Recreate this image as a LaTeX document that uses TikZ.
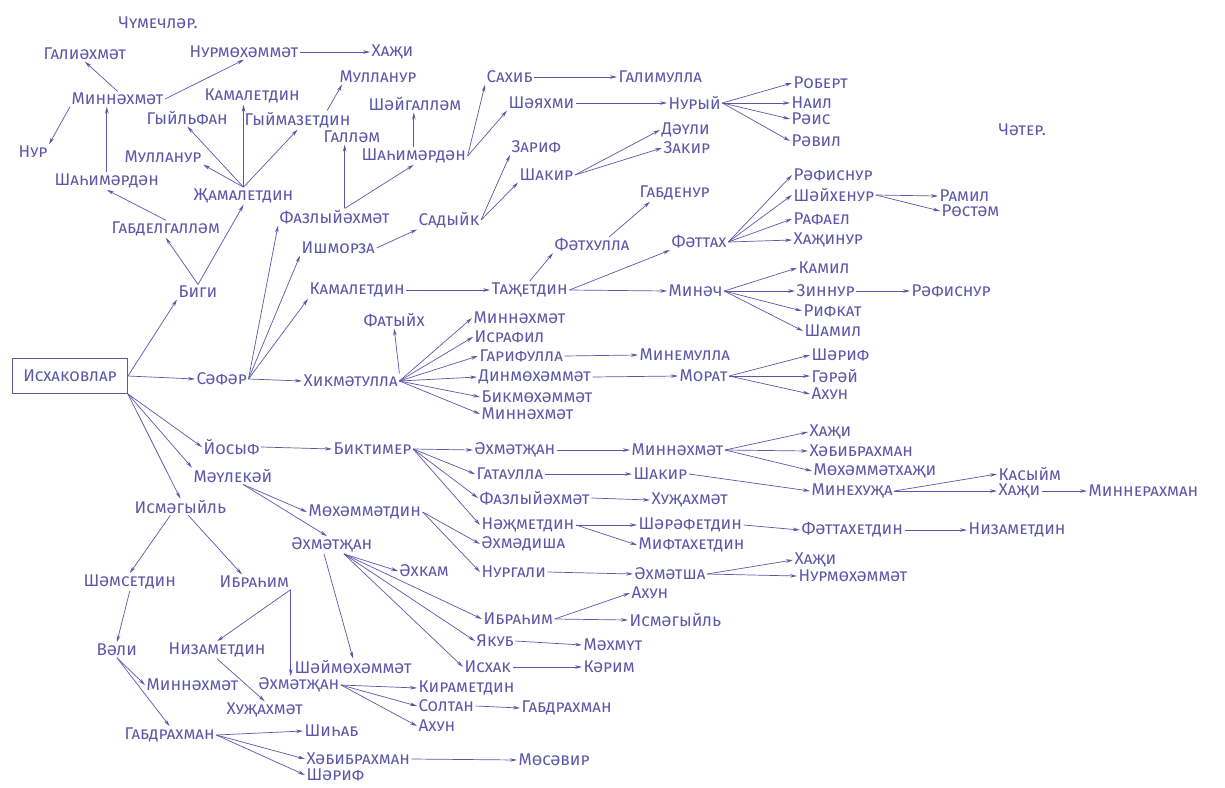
\documentclass[tikz,border=0pt]{standalone}
\usepackage{fontspec}
\setmainfont{Fira Sans}[Letters=SmallCaps]
\usetikzlibrary{arrows.meta,calc}
\definecolor{ink}{RGB}{92,86,168}
\begin{document}
\begin{tikzpicture}[x=1pt,y=-1pt,
  t/.style={anchor=west,inner sep=1.5pt,text=ink,font=\fontsize{17}{18}\selectfont},
  arr/.style={draw=ink,line width=0.7pt,-{Stealth[length=7pt,width=3.5pt]}},
  ln/.style={draw=ink,line width=0.7pt}]
\path[use as bounding box] (0,0) rectangle (1225,787);
% titles
\node[t] (chum) at (117,23) {Чүмечләр.};
\node[t] (chater) at (997,130) {Чәтер.};
% root
\node[draw=ink,line width=0.9pt,minimum width=115,minimum height=35,inner sep=1pt,text=ink,font=\fontsize{17}{18}\selectfont] (root) at (70,376) {Исхаковлар};
% top-left
\node[t] (galiahmat) at (42,54) {Галиәхмәт};
\node[t] (nurmoh1) at (188,52) {Нурмөхәммәт};
\node[t] (hazhi1) at (370,52) {Хаҗи};
\node[t] (minnah1) at (70,99) {Миннәхмәт};
\node[t] (kamal1) at (203,96) {Камалетдин};
\node[t] (gyilfan) at (145,118) {Гыйльфан};
\node[t] (gyimaz) at (243,120) {Гыймазетдин};
\node[t] (nur) at (17,152) {Нур};
\node[t] (mullanur1) at (123,157) {Мулланур};
\node[t] (shahim1) at (53,181) {Шаһимәрдән};
\node[t] (zhamal) at (192,196) {Җамалетдин};
\node[t] (gabdel) at (110,229) {Габделгалләм};
\node[t] (biga) at (177,292) {Биги};
% upper middle
\node[t] (mullanur2) at (338,77) {Мулланур};
\node[t] (shaygal) at (367,104) {Шәйгалләм};
\node[t] (gallam) at (322,137) {Галләм};
\node[t] (shahim2) at (360,156) {Шаһимәрдән};
\node[t] (fazly1) at (278,217) {Фазлыйәхмәт};
\node[t] (ishmorza) at (300,248) {Ишморза};
\node[t] (sadyik) at (417,220) {Садыйк};
\node[t] (sahib) at (485,77) {Сахиб};
\node[t] (galimulla) at (617,77) {Галимулла};
\node[t] (shayahmi) at (507,103) {Шәяхми};
\node[t] (nuryi) at (667,103) {Нурый};
\node[t] (robert) at (792,83) {Роберт};
\node[t] (nail) at (790,103) {Наил};
\node[t] (rais) at (790,119) {Рәис};
\node[t] (ravil) at (790,141) {Рәвил};
\node[t] (zarif) at (510,147) {Зариф};
\node[t] (shakir1) at (518,175) {Шакир};
\node[t] (dauli) at (660,130) {Дәүли};
\node[t] (zakir) at (662,148) {Закир};
\node[t] (gabdenur) at (638,193) {Габденур};
\node[t] (fathulla) at (553,245) {Фәтхулла};
\node[t] (fattah) at (670,242) {Фәттах};
\node[t] (rafisnur1) at (792,175) {Рәфиснур};
\node[t] (shayhenur) at (792,195) {Шәйхенур};
\node[t] (ramil) at (938,196) {Рамил};
\node[t] (rostam) at (940,211) {Рөстәм};
\node[t] (rafael) at (792,219) {Рафаел};
\node[t] (hazhinur) at (792,240) {Хаҗинур};
% Safar branch
\node[t] (safar) at (195,379) {Сәфәр};
\node[t] (kamal2) at (308,290) {Камалетдин};
\node[t] (tazhet) at (490,290) {Таҗетдин};
\node[t] (minach) at (667,291) {Минәч};
\node[t] (kamil) at (797,268) {Камил};
\node[t] (zinnur) at (795,291) {Зиннур};
\node[t] (rafisnur2) at (910,291) {Рәфиснур};
\node[t] (rifkat) at (802,311) {Рифкат};
\node[t] (shamil) at (803,331) {Шамил};
\node[t] (fatyih) at (362,320) {Фатыйх};
\node[t] (hikmat) at (302,381) {Хикмәтулла};
\node[t] (minnah2) at (472,318) {Миннәхмәт};
\node[t] (israfil) at (473,337) {Исрафил};
\node[t] (garif) at (478,356) {Гарифулла};
\node[t] (dinmoh) at (477,377) {Динмөхәммәт};
\node[t] (bikmoh) at (480,397) {Бикмөхәммәт};
\node[t] (minnah3) at (480,414) {Миннәхмәт};
\node[t] (minemulla) at (638,355) {Минемулла};
\node[t] (morat) at (678,376) {Морат};
\node[t] (sharif1) at (810,355) {Шәриф};
\node[t] (garay) at (810,376) {Гәрәй};
\node[t] (ahun1) at (810,394) {Ахун};
% middle
\node[t] (yosyf) at (202,447) {Йосыф};
\node[t] (biktimer) at (332,449) {Биктимер};
\node[t] (maulek) at (192,476) {Мәүлекәй};
\node[t] (ismag1) at (133,507) {Исмәгыйль};
\node[t] (mohdin) at (307,512) {Мөхәммәтдин};
\node[t] (ahmatzhan1) at (290,545) {Әхмәтҗан};
\node[t] (ahmatzhan2) at (473,450) {Әхмәтҗан};
\node[t] (minnah4) at (630,450) {Миннәхмәт};
\node[t] (hazhi2) at (808,432) {Хаҗи};
\node[t] (habib1) at (808,451) {Хәбибрахман};
\node[t] (mohhazhi) at (812,471) {Мөхәммәтхаҗи};
\node[t] (gataulla) at (475,474) {Гатаулла};
\node[t] (shakir2) at (632,474) {Шакир};
\node[t] (minehuzha) at (810,491) {Минехуҗа};
\node[t] (kasyim) at (997,474) {Касыйм};
\node[t] (hazhi3) at (997,491) {Хаҗи};
\node[t] (minnerahman) at (1087,491) {Миннерахман};
\node[t] (fazly2) at (478,498) {Фазлыйәхмәт};
\node[t] (huzhahmat1) at (650,500) {Хуҗахмәт};
\node[t] (nazhmet) at (480,525) {Нәҗметдин};
\node[t] (sharafet) at (637,525) {Шәрәфетдин};
\node[t] (fattahet) at (800,530) {Фәттахетдин};
\node[t] (nizamet2) at (967,530) {Низаметдин};
\node[t] (ahmadisha) at (480,544) {Әхмәдиша};
\node[t] (miftahet) at (637,545) {Мифтахетдин};
\node[t] (nurgali) at (480,572) {Нургали};
\node[t] (ahmatsha) at (633,574) {Әхмәтша};
\node[t] (hazhi4) at (793,560) {Хаҗи};
\node[t] (nurmoh2) at (797,576) {Нурмөхәммәт};
\node[t] (ahkam) at (398,571) {Әхкам};
\node[t] (ibrahim2) at (482,619) {Ибраһим};
\node[t] (ahun2) at (630,593) {Ахун};
\node[t] (ismag2) at (628,620) {Исмәгыйль};
\node[t] (yakub) at (475,641) {Якуб};
\node[t] (mahmut) at (582,645) {Мәхмүт};
\node[t] (shaymoh) at (293,667) {Шәймөхәммәт};
\node[t] (ishak) at (463,667) {Исхак};
\node[t] (karim) at (582,667) {Кәрим};
% bottom left
\node[t] (shamset) at (82,582) {Шәмсетдин};
\node[t] (ibrahim1) at (218,582) {Ибраһим};
\node[t] (vali) at (95,650) {Вәли};
\node[t] (nizamet1) at (167,650) {Низаметдин};
\node[t] (minnah5) at (145,685) {Миннәхмәт};
\node[t] (ahmatzhan3) at (257,685) {Әхмәтҗан};
\node[t] (huzhahmat2) at (225,710) {Хуҗахмәт};
\node[t] (gabdrah1) at (123,735) {Габдрахман};
\node[t] (kiramet) at (417,688) {Кираметдин};
\node[t] (soltan) at (417,706) {Солтан};
\node[t] (gabdrah2) at (520,708) {Габдрахман};
\node[t] (ahun3) at (417,726) {Ахун};
\node[t] (shihab) at (303,731) {Шиһаб};
\node[t] (habib2) at (305,759) {Хәбибрахман};
\node[t] (mosavir) at (517,760) {Мөсәвир};
\node[t] (sharif2) at (305,775) {Шәриф};
% ---- edges ----
\draw[arr] (root.east) -- (biga.south west);
\draw[arr] (root.east) -- (safar.west);
\draw[arr] (root.south east) -- (yosyf.west);
\draw[arr] (root.south east) -- (maulek.north west);
\draw[arr] (root.south east) -- (ismag1.north);
\draw[arr] (biga.north) -- (gabdel.south);
\draw[arr] (biga.north) -- (zhamal.south);
\draw[arr] (gabdel.north) -- (shahim1.south);
\draw[arr] (shahim1.north) -- (shahim1.north |- minnah1.south);
\draw[arr] (minnah1.north) -- (galiahmat.south);
\draw[arr] (minnah1.south west) -- (nur.north east);
\draw[arr] (minnah1.east) -- (nurmoh1.south);
\draw[arr] (nurmoh1.east) -- (hazhi1.west);
\draw[arr] (zhamal.north) -- (mullanur1.south east);
\draw[arr] (zhamal.north) -- (gyilfan.south);
\draw[arr] (zhamal.north) -- (zhamal.north |- kamal1.south);
\draw[arr] (zhamal.north) -- (gyimaz.south);
\draw[arr] ([xshift=-25pt]gyimaz.north east) -- ([xshift=4pt]mullanur2.south west);
\draw[arr] (safar.east) -- (fazly1.south west);
\draw[arr] (safar.east) -- (ishmorza.south west);
\draw[arr] (safar.east) -- (kamal2.south west);
\draw[arr] (safar.east) -- (hikmat.west);
\draw[arr] ([xshift=10pt]fazly1.north) -- ([xshift=10pt]fazly1.north |- gallam.south);
\draw[arr] ([xshift=10pt]fazly1.north) -- (shahim2.south);
\draw[arr] (shahim2.north) -- (shahim2.north |- shaygal.south);
\draw[arr] (shahim2.east) -- (sahib.south west);
\draw[arr] (shahim2.east) -- (shayahmi.south west);
\draw[arr] (sahib.east) -- (galimulla.west);
\draw[arr] (shayahmi.east) -- (nuryi.west);
\draw[arr] (nuryi.east) -- (robert.west);
\draw[arr] (nuryi.east) -- (nail.west);
\draw[arr] (nuryi.east) -- (rais.west);
\draw[arr] (nuryi.east) -- (ravil.west);
\draw[arr] (ishmorza.east) -- (sadyik.south west);
\draw[arr] (sadyik.east) -- (zarif.south west);
\draw[arr] (sadyik.east) -- (shakir1.south west);
\draw[arr] (shakir1.east) -- (dauli.west);
\draw[arr] (shakir1.east) -- (zakir.west);
\draw[arr] (kamal2.east) -- (tazhet.west);
\draw[arr] (tazhet.north) -- (fathulla.south west);
\draw[arr] (tazhet.east) -- (fattah.south west);
\draw[arr] (tazhet.east) -- (minach.west);
\draw[arr] ([xshift=-22pt]fathulla.north east) -- ([xshift=12pt]gabdenur.south west);
\draw[arr] (fattah.east) -- (rafisnur1.west);
\draw[arr] (fattah.east) -- (shayhenur.west);
\draw[arr] (fattah.east) -- (rafael.west);
\draw[arr] (fattah.east) -- (hazhinur.west);
\draw[arr] (shayhenur.east) -- (ramil.west);
\draw[arr] (shayhenur.east) -- (rostam.west);
\draw[arr] (minach.east) -- (kamil.west);
\draw[arr] (minach.east) -- (zinnur.west);
\draw[arr] (minach.east) -- (rifkat.west);
\draw[arr] (minach.east) -- (shamil.west);
\draw[arr] (zinnur.east) -- (rafisnur2.west);
\draw[arr] (hikmat.north east) -- (fatyih.south);
\draw[arr] (hikmat.east) -- (minnah2.west);
\draw[arr] (hikmat.east) -- (israfil.west);
\draw[arr] (hikmat.east) -- (garif.west);
\draw[arr] (hikmat.east) -- (dinmoh.west);
\draw[arr] (hikmat.east) -- (bikmoh.west);
\draw[arr] (hikmat.east) -- (minnah3.west);
\draw[arr] (garif.east) -- (minemulla.west);
\draw[arr] (dinmoh.east) -- (morat.west);
\draw[arr] (morat.east) -- (sharif1.west);
\draw[arr] (morat.east) -- (garay.west);
\draw[arr] (morat.east) -- (ahun1.west);
\draw[arr] (yosyf.east) -- (biktimer.west);
\draw[arr] (biktimer.east) -- (ahmatzhan2.west);
\draw[arr] (biktimer.east) -- (gataulla.west);
\draw[arr] (biktimer.east) -- (fazly2.west);
\draw[arr] (biktimer.east) -- (nazhmet.west);
\draw[arr] (ahmatzhan2.east) -- (minnah4.west);
\draw[arr] (minnah4.east) -- (hazhi2.west);
\draw[arr] (minnah4.east) -- (habib1.west);
\draw[arr] (minnah4.east) -- (mohhazhi.west);
\draw[arr] (gataulla.east) -- (shakir2.west);
\draw[arr] (shakir2.east) -- (minehuzha.west);
\draw[arr] (minehuzha.east) -- (kasyim.west);
\draw[arr] (minehuzha.east) -- (hazhi3.west);
\draw[arr] (hazhi3.east) -- (minnerahman.west);
\draw[arr] (fazly2.east) -- (huzhahmat1.west);
\draw[arr] (nazhmet.east) -- (sharafet.west);
\draw[arr] (nazhmet.east) -- (miftahet.west);
\draw[arr] (sharafet.east) -- (fattahet.west);
\draw[arr] (fattahet.east) -- (nizamet2.west);
\draw[arr] ([xshift=10pt]maulek.south) -- (mohdin.west);
\draw[arr] ([xshift=10pt]maulek.south) -- ([xshift=-5pt]ahmatzhan1.north);
\draw[arr] (mohdin.east) -- (ahmadisha.west);
\draw[arr] (mohdin.east) -- (nurgali.west);
\draw[arr] (nurgali.east) -- (ahmatsha.west);
\draw[arr] (ahmatsha.east) -- (hazhi4.west);
\draw[arr] (ahmatsha.east) -- (nurmoh2.west);
\draw[arr] ([xshift=-30pt]ahmatzhan1.south east) -- (ahkam.west);
\draw[arr] ([xshift=-30pt]ahmatzhan1.south east) -- (ibrahim2.west);
\draw[arr] ([xshift=-30pt]ahmatzhan1.south east) -- (yakub.west);
\draw[arr] ([xshift=-30pt]ahmatzhan1.south east) -- (ishak.west);
\draw[arr] ([xshift=-8pt]ahmatzhan1.south) -- (shaymoh.north);
\draw[arr] (ibrahim2.east) -- (ahun2.west);
\draw[arr] (ibrahim2.east) -- (ismag2.west);
\draw[arr] (yakub.east) -- (mahmut.west);
\draw[arr] (ishak.east) -- (karim.west);
\draw[arr] ([xshift=-10pt]ismag1.south) -- (shamset.north);
\draw[arr] ([xshift=8pt]ismag1.south) -- ([xshift=24pt]ibrahim1.north west);
\draw[arr] (shamset.south) -- (vali.north);
\draw[arr] (ibrahim1.south east) -- (nizamet1.north);
\draw[arr] (ibrahim1.south east) -- (ibrahim1.south east |- ahmatzhan3.north);
\draw[arr] (nizamet1.south) -- (huzhahmat2.north);
\draw[arr] (vali.south) -- (minnah5.west);
\draw[arr] (vali.south) -- (gabdrah1.north);
\draw[arr] (ahmatzhan3.east) -- (kiramet.west);
\draw[arr] (ahmatzhan3.east) -- (soltan.west);
\draw[arr] (ahmatzhan3.east) -- (ahun3.west);
\draw[arr] (soltan.east) -- (gabdrah2.west);
\draw[arr] (gabdrah1.east) -- (shihab.west);
\draw[arr] (gabdrah1.east) -- (habib2.west);
\draw[arr] (gabdrah1.east) -- (sharif2.west);
\draw[arr] (habib2.east) -- (mosavir.west);
\end{tikzpicture}
\end{document}
